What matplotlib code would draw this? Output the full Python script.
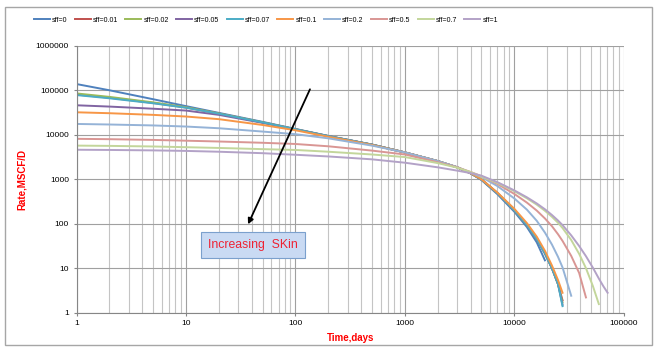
import numpy as np
import matplotlib
matplotlib.use("Agg")
import matplotlib.pyplot as plt
from matplotlib.patches import Rectangle

plt.rcParams['font.family'] = ['Liberation Sans', 'DejaVu Sans']

nan = np.nan

# time axis shared by all curves (days)
days = [1, 2, 5, 10, 20, 50, 100, 200, 500, 1000, 2000, 3000, 4000, 5000, 7000,
        10000, 13000, 16000, 19000, 22000, 25000, 27500, 33000, 39000, 45000,
        52000, 59000, 65000, 71000]

# gas rate, MSCF/D, one list per skin value (nan = curve ended)
rate_sff0 = [138000, 100000, 63000, 44000, 31000, 19500, 13500, 9400, 6000, 4000,
             2550, 1850, 1350, 960, 460, 185, 84, 38, 15,
             nan, nan, nan, nan, nan, nan, nan, nan, nan, nan]
rate_sff001 = [80000, 68000, 52000, 41000, 30000, 19000, 13300, 9300, 6000, 4000,
               2550, 1850, 1350, 985, 485, 199, 93, 45, 21.5, 10, 4.4, 1.9,
               nan, nan, nan, nan, nan, nan, nan]
rate_sff002 = [85000, 71000, 53500, 41500, 30000, 19000, 13300, 9300, 6000, 4000,
               2550, 1850, 1350, 985, 485, 199, 93, 45, 21.5, 10, 4.4, 1.7,
               nan, nan, nan, nan, nan, nan, nan]
rate_sff005 = [46000, 43000, 38500, 35000, 28000, 18500, 13200, 9300, 6000, 4000,
               2550, 1850, 1350, 985, 485, 199, 93, 45, 21.5, 10, 4.4, 1.5,
               nan, nan, nan, nan, nan, nan, nan]
rate_sff007 = [78000, 66000, 51000, 40500, 29800, 19000, 13300, 9300, 6000, 4000,
               2550, 1850, 1350, 985, 485, 199, 93, 45, 21.5, 10, 4.4, 1.4,
               nan, nan, nan, nan, nan, nan, nan]
rate_sff01 = [32000, 30500, 28000, 25700, 22400, 16600, 12600, 9000, 5900, 4000,
              2550, 1860, 1360, 1000, 500, 215, 103, 51, 24.5, 11.5, 5.4, 2.8,
              nan, nan, nan, nan, nan, nan, nan]
rate_sff02 = [17500, 17000, 16200, 15300, 14000, 11800, 10300, 8300, 5700, 4000,
              2550, 1880, 1400, 1120, 700, 368, 207, 116, 63, 34, 18, 10.4, 2.4,
              nan, nan, nan, nan, nan, nan]
rate_sff05 = [8100, 7950, 7650, 7350, 7050, 6600, 6200, 5500, 4400, 3600,
              2400, 1850, 1450, 1170, 780, 466, 298, 197, 131, 88, 58, 41, 18.9,
              7.8, 2.2, nan, nan, nan, nan]
rate_sff07 = [5700, 5620, 5450, 5250, 5050, 4750, 4550, 4150, 3600, 3150,
              2300, 1820, 1440, 1150, 822, 537, 372, 268, 195, 143, 105, 80, 43,
              21, 10, 4.0, 1.56, nan, nan]
rate_sff1 = [4600, 4550, 4450, 4330, 4150, 3850, 3550, 3250, 2800, 2350,
             1850, 1560, 1370, 1200, 858, 559, 392, 285, 211, 157, 118, 93, 54.7,
             31.5, 18.6, 10.3, 5.85, 3.9, 2.8]

labels = ['sff=0', 'sff=0.01', 'sff=0.02', 'sff=0.05', 'sff=0.07',
          'sff=0.1', 'sff=0.2', 'sff=0.5', 'sff=0.7', 'sff=1']
rates = [rate_sff0, rate_sff001, rate_sff002, rate_sff005, rate_sff007,
         rate_sff01, rate_sff02, rate_sff05, rate_sff07, rate_sff1]
colors = ['#4F81BD', '#C0504D', '#9BBB59', '#8064A2', '#4BACC6',
          '#F79646', '#95B3D7', '#D99694', '#C3D69B', '#B3A2C7']

y_ticks = [1, 10, 100, 1000, 10000, 100000, 1000000]
x_ticks = [1, 10, 100, 1000, 10000, 100000]

fig = plt.figure(figsize=(6.54, 3.47), dpi=100)
ax = fig.add_axes([0.117, 0.099, 0.837, 0.769])

for q, lab, c in zip(rates, labels, colors):
    ax.plot(days, q, color=c, lw=1.4, label=lab)

ax.set_xscale('log')
ax.set_yscale('log')
ax.set_xlim(1, 100000)
ax.set_ylim(1, 1000000)

ax.set_xticks(x_ticks)
ax.set_xticklabels([str(v) for v in x_ticks])
ax.set_yticks(y_ticks)
ax.set_yticklabels([str(v) for v in y_ticks])
ax.yaxis.set_minor_locator(matplotlib.ticker.NullLocator())
ax.xaxis.set_minor_locator(matplotlib.ticker.LogLocator(base=10, subs=np.arange(2, 10)))
ax.xaxis.set_minor_formatter(matplotlib.ticker.NullFormatter())

# grid
ax.grid(True, which='major', color='#A0A0A0', lw=0.8)
ax.grid(True, which='minor', axis='x', color='#C4C4C4', lw=0.8)
ax.set_axisbelow(True)

for s in ['top', 'right']:
    ax.spines[s].set_visible(False)
for s in ['left', 'bottom']:
    ax.spines[s].set_color('#868686')
    ax.spines[s].set_linewidth(0.8)

ax.tick_params(axis='both', which='major', labelsize=6, length=2.5, width=0.8,
               color='#868686', pad=3)
ax.tick_params(axis='x', which='minor', length=0)

ax.set_xlabel('Time,days', color='red', fontweight='bold', fontsize=7, labelpad=4)
ax.set_ylabel('Rate,MSCF/D', color='red', fontweight='bold', fontsize=7)
ax.yaxis.set_label_coords(-0.09, 0.5)

# arrow + label
ax.annotate('', xy=(36, 85), xytext=(139, 120000),
            arrowprops=dict(arrowstyle='-|>', color='black', lw=1.3,
                            mutation_scale=8))
ax.text(41, 33, 'Increasing  SKin', color='#EE2233', fontsize=8.8,
        ha='center', va='center',
        bbox=dict(boxstyle='square,pad=0.55', facecolor='#C9DAF3',
                  edgecolor='#7BA0CD', lw=0.8))

fig.legend(loc='center', bbox_to_anchor=(266 / 654, 1 - 20 / 347), ncol=10,
           frameon=False, fontsize=5, handlelength=2.3, handletextpad=0.3,
           columnspacing=1.05)

# outer chart border
fig.patches.append(Rectangle((5 / 654, 2 / 347), 647 / 654, 338 / 347,
                             transform=fig.transFigure, fill=False,
                             edgecolor='#A6A6A6', lw=1))

fig.savefig('out.png', dpi=100)
